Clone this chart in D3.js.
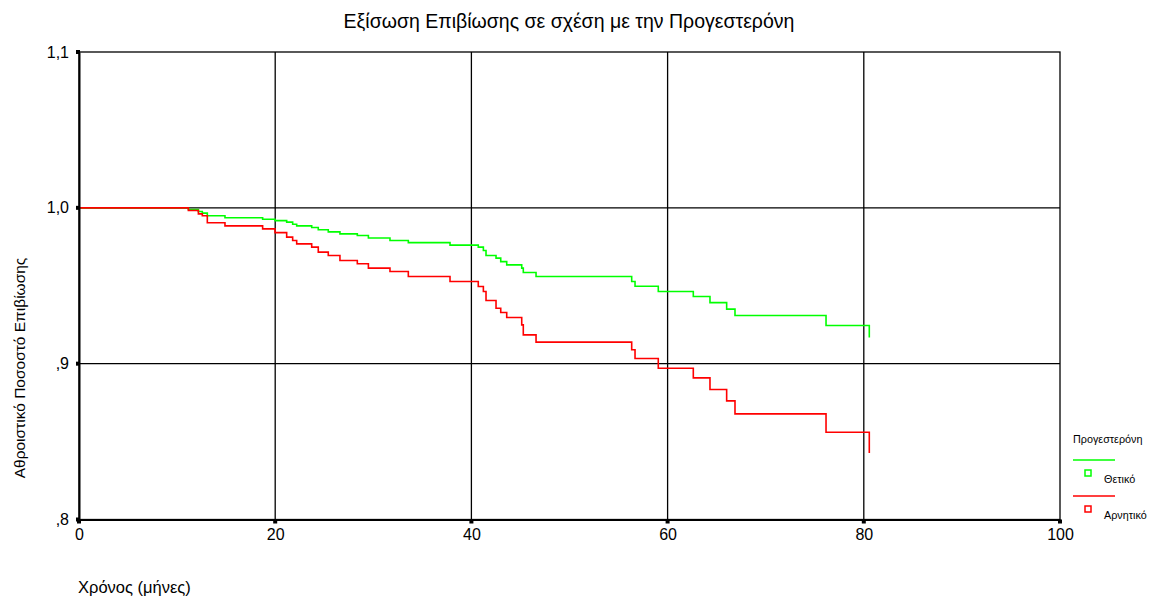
<!DOCTYPE html>
<html>
<head>
<meta charset="utf-8">
<script src="https://cdn.jsdelivr.net/npm/d3@7"></script>
<style>
  body { margin: 0; background: #fff; }
  svg { display: block; font-family: "Liberation Sans", Arial, sans-serif; }
</style>
</head>
<body>
<svg id="chart" width="1155" height="602"></svg>
<script>
// event times (months) - both groups step at the same times
const months = [11.15, 12.17, 12.57, 13.08, 14.88, 18.72, 19.98, 21.17, 21.78, 22.19,
    23.72, 24.39, 25.41, 26.6, 28.37, 29.5, 31.7, 33.57, 37.82, 40.7,
    41.22, 41.49, 42.51, 42.99, 43.6, 45.13, 45.29, 46.59, 56.34, 56.68,
    59.05, 62.62, 64.32, 66.02, 66.87, 76.15, 80.56];

const positiveSurv = [0.9989, 0.9976, 0.9966, 0.9949, 0.9936, 0.9927, 0.9918, 0.9908, 0.9895, 0.9884,
    0.9874, 0.9859, 0.9846, 0.9833, 0.9822, 0.9806, 0.9790, 0.9777, 0.9761, 0.9748,
    0.9726, 0.9694, 0.9677, 0.9655, 0.9634, 0.9613, 0.9585, 0.9559, 0.9527, 0.9497,
    0.9463, 0.9431, 0.9392, 0.9350, 0.9309, 0.9245, 0.9168];

const negativeSurv = [0.9983, 0.9961, 0.9949, 0.9904, 0.9884, 0.9865, 0.9841, 0.9812, 0.9790, 0.9769,
    0.9748, 0.9716, 0.9694, 0.9662, 0.9641, 0.9613, 0.9591, 0.9559, 0.9527, 0.9495,
    0.9463, 0.9405, 0.9356, 0.9328, 0.9296, 0.9249, 0.9185, 0.9138, 0.9089, 0.9033,
    0.8971, 0.8909, 0.8834, 0.8761, 0.8678, 0.8560, 0.8426];

const groups = ['Θετικό', 'Αρνητικό'];
const xTicks = [0, 20, 40, 60, 80, 100];
const yTicks = [0.8, 0.9, 1.0, 1.1];
const yTickLabels = [',8', ',9', '1,0', '1,1'];

const colors = ['#00ff00', '#ff0000'];

let svg = d3.select('#chart');

const plotLeft = 79, plotRight = 1060, plotTop = 52, plotBottom = 519.5;

let x = d3.scaleLinear().domain([0, 100]).range([plotLeft, plotRight]);
let y = d3.scaleLinear().domain([0.8, 1.1]).range([plotBottom, plotTop]);

// title
svg.append('text')
    .attr('x', 569).attr('y', 28)
    .attr('text-anchor', 'middle')
    .attr('font-size', 19.5)
    .text('Εξίσωση Επιβίωσης σε σχέση με την Προγεστερόνη');

// grid
svg.append('g')
    .selectAll('line')
    .data(xTicks.slice(1, -1))
    .enter().append('line')
        .attr('x1', d => x(d)).attr('x2', d => x(d))
        .attr('y1', plotTop).attr('y2', plotBottom)
        .attr('stroke', '#000').attr('stroke-width', 1.3);

svg.append('g')
    .selectAll('line')
    .data(yTicks.slice(1, -1))
    .enter().append('line')
        .attr('x1', plotLeft).attr('x2', plotRight)
        .attr('y1', d => y(d)).attr('y2', d => y(d))
        .attr('stroke', '#000').attr('stroke-width', 1.3);

// frame
svg.append('rect')
    .attr('x', plotLeft).attr('y', plotTop)
    .attr('width', plotRight - plotLeft).attr('height', plotBottom - plotTop)
    .attr('fill', 'none').attr('stroke', '#000').attr('stroke-width', 1.3);

// curves
let stepLine = d3.line()
    .x(d => x(d[0]))
    .y(d => y(d[1]))
    .curve(d3.curveStepAfter);

[positiveSurv, negativeSurv].forEach((surv, i) => {
    let pts = [[0, 1.0]];
    months.forEach((m, j) => pts.push([m, surv[j]]));
    svg.append('path')
        .datum(pts)
        .attr('d', stepLine)
        .attr('fill', 'none')
        .attr('stroke', colors[i])
        .attr('stroke-width', 1.6);
});

// axes
let yAxis = d3.axisLeft(y)
    .tickValues(yTicks)
    .tickFormat((d, i) => yTickLabels[i])
    .tickSize(0)
    .tickPadding(10);
let gy = svg.append('g')
    .attr('transform', `translate(${plotLeft},0)`)
    .call(yAxis);
gy.select('.domain').attr('stroke', '#000').attr('stroke-width', 2);
gy.selectAll('text').attr('font-size', 16).attr('font-family', '"Liberation Sans", Arial, sans-serif').attr('fill', '#000');

let xAxis = d3.axisBottom(x)
    .tickValues(xTicks)
    .tickSize(0)
    .tickPadding(9);
let gx = svg.append('g')
    .attr('transform', `translate(0,${plotBottom})`)
    .call(xAxis);
gx.select('.domain').attr('stroke', '#000').attr('stroke-width', 2);
gx.selectAll('text').attr('font-size', 16).attr('font-family', '"Liberation Sans", Arial, sans-serif').attr('fill', '#000');

// small square tick markers
svg.append('g')
    .selectAll('rect')
    .data(yTicks)
    .enter().append('rect')
        .attr('x', plotLeft - 3).attr('y', d => y(d) - 2)
        .attr('width', 4).attr('height', 4)
        .attr('fill', '#000');
svg.append('g')
    .selectAll('rect')
    .data(xTicks)
    .enter().append('rect')
        .attr('x', d => x(d) - 2).attr('y', plotBottom)
        .attr('width', 4).attr('height', 4)
        .attr('fill', '#000');

// axis titles
svg.append('text')
    .attr('transform', 'translate(25,368) rotate(-90)')
    .attr('text-anchor', 'middle')
    .attr('font-size', 15.5)
    .text('Αθροιστικό Ποσοστό Επιβίωσης');

svg.append('text')
    .attr('x', 78).attr('y', 593)
    .attr('font-size', 16.5)
    .text('Χρόνος (μήνες)');

// legend
let legend = svg.append('g');
legend.append('text')
    .attr('x', 1073).attr('y', 443)
    .attr('font-size', 10.8)
    .text('Προγεστερόνη');

groups.forEach((g, i) => {
    let base = 460 + i * 36;
    legend.append('line')
        .attr('x1', 1073).attr('x2', 1115)
        .attr('y1', base).attr('y2', base)
        .attr('stroke', colors[i]).attr('stroke-width', 1.3);
    legend.append('rect')
        .attr('x', 1085).attr('y', base + 10)
        .attr('width', 6).attr('height', 6)
        .attr('fill', 'none')
        .attr('stroke', colors[i]).attr('stroke-width', 1.5);
    legend.append('text')
        .attr('x', 1104).attr('y', base + 23)
        .attr('font-size', 10.8)
        .text(g);
});
</script>
</body>
</html>
